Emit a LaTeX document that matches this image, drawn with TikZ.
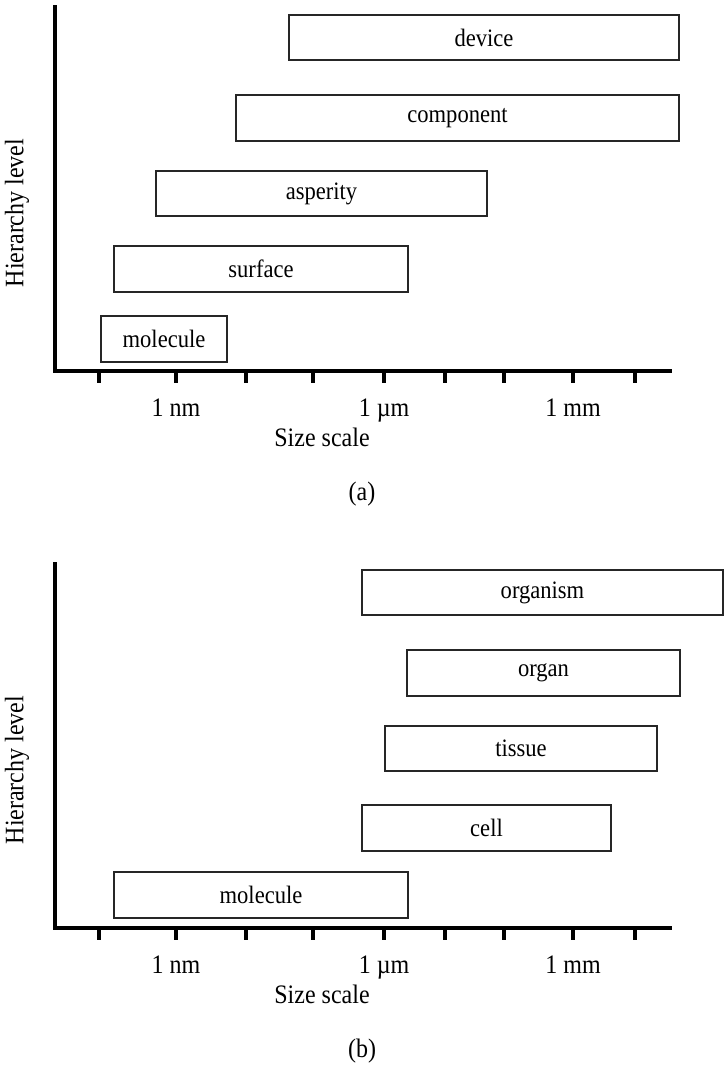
\documentclass[tikz,border=0pt]{standalone}
\usepackage{fontspec}
\setmainfont{Liberation Serif}
\newfontfamily\narrowserif[FakeStretch=0.9]{Liberation Serif}
\usetikzlibrary{calc}
\newcommand\barbox[6]{%
  \node[hbar, minimum width={(#4-#2)*0.75pt}, minimum height={(#5-#3)*0.75pt}] (#1) at ({(#2+#4)/2},{(#3+#5)/2}) {#6};}
\begin{document}
\begin{tikzpicture}[x=0.75pt,y=-0.75pt,
  hbar/.style={draw=black!85, line width=1.4pt, fill=white, inner sep=0pt, outer sep=0pt, font=\narrowserif\fontsize{18.8}{22}\selectfont},
  axisline/.style={line width=2.3pt, line cap=butt, line join=miter},
  tickline/.style={line width=2.3pt},
  ticklabel/.style={font=\narrowserif\fontsize{20}{23}\selectfont, inner sep=0pt, anchor=base},
  axislabel/.style={font=\narrowserif\fontsize{20}{23}\selectfont, inner sep=0pt}]
\useasboundingbox (0,0) rectangle (724,1072);
% ---------- panel (a)
\coordinate (aTop) at (55,5);
\coordinate (aO) at (55,371);
\coordinate (aEnd) at (672,371);
\draw[axisline] (aTop) -- (aO) -- (aEnd);
\foreach \x [count=\i] in {99,176,246,313,384,445,504,573,635}{
  \coordinate (at\i) at (\x,371);
  \coordinate (ab\i) at (\x,383);
  \draw[tickline] (at\i) -- (ab\i);
}
\node[ticklabel] (anm) at (176,416) {1 nm};
\node[ticklabel] (aum) at (384,416) {1 µm};
\node[ticklabel] (amm) at (573,416) {1 mm};
\node[axislabel] (asize) at (322,437) {Size scale};
\node[axislabel, rotate=90] (ahier) at (17,213) {Hierarchy level};
\node[axislabel] (acap) at (362,494) {(a)};
\barbox{adevice}{289}{15}{679}{60}{device}
\barbox{acomp}{236}{95}{679}{141}{component}
\barbox{aasp}{156}{171}{487}{216}{asperity}
\barbox{asurf}{114}{246}{408}{292}{surface}
\barbox{amol}{101}{316}{227}{362}{molecule}
% ---------- panel (b)
\coordinate (bTop) at (55,562);
\coordinate (bO) at (55,928);
\coordinate (bEnd) at (672,928);
\draw[axisline] (bTop) -- (bO) -- (bEnd);
\foreach \x [count=\i] in {99,176,246,313,384,445,504,573,635}{
  \coordinate (bt\i) at (\x,928);
  \coordinate (bb\i) at (\x,940);
  \draw[tickline] (bt\i) -- (bb\i);
}
\node[ticklabel] (bnm) at (176,973) {1 nm};
\node[ticklabel] (bum) at (384,973) {1 µm};
\node[ticklabel] (bmm) at (573,973) {1 mm};
\node[axislabel] (bsize) at (322,994) {Size scale};
\node[axislabel, rotate=90] (bhier) at (17,770) {Hierarchy level};
\node[axislabel] (bcap) at (362,1051) {(b)};
\barbox{borgm}{362}{570}{723}{615}{organism}
\barbox{borg}{407}{650}{680}{696}{organ}
\barbox{btis}{385}{726}{657}{771}{tissue}
\barbox{bcell}{362}{805}{611}{851}{cell}
\barbox{bmol}{114}{872}{408}{918}{molecule}
\end{tikzpicture}
\end{document}
